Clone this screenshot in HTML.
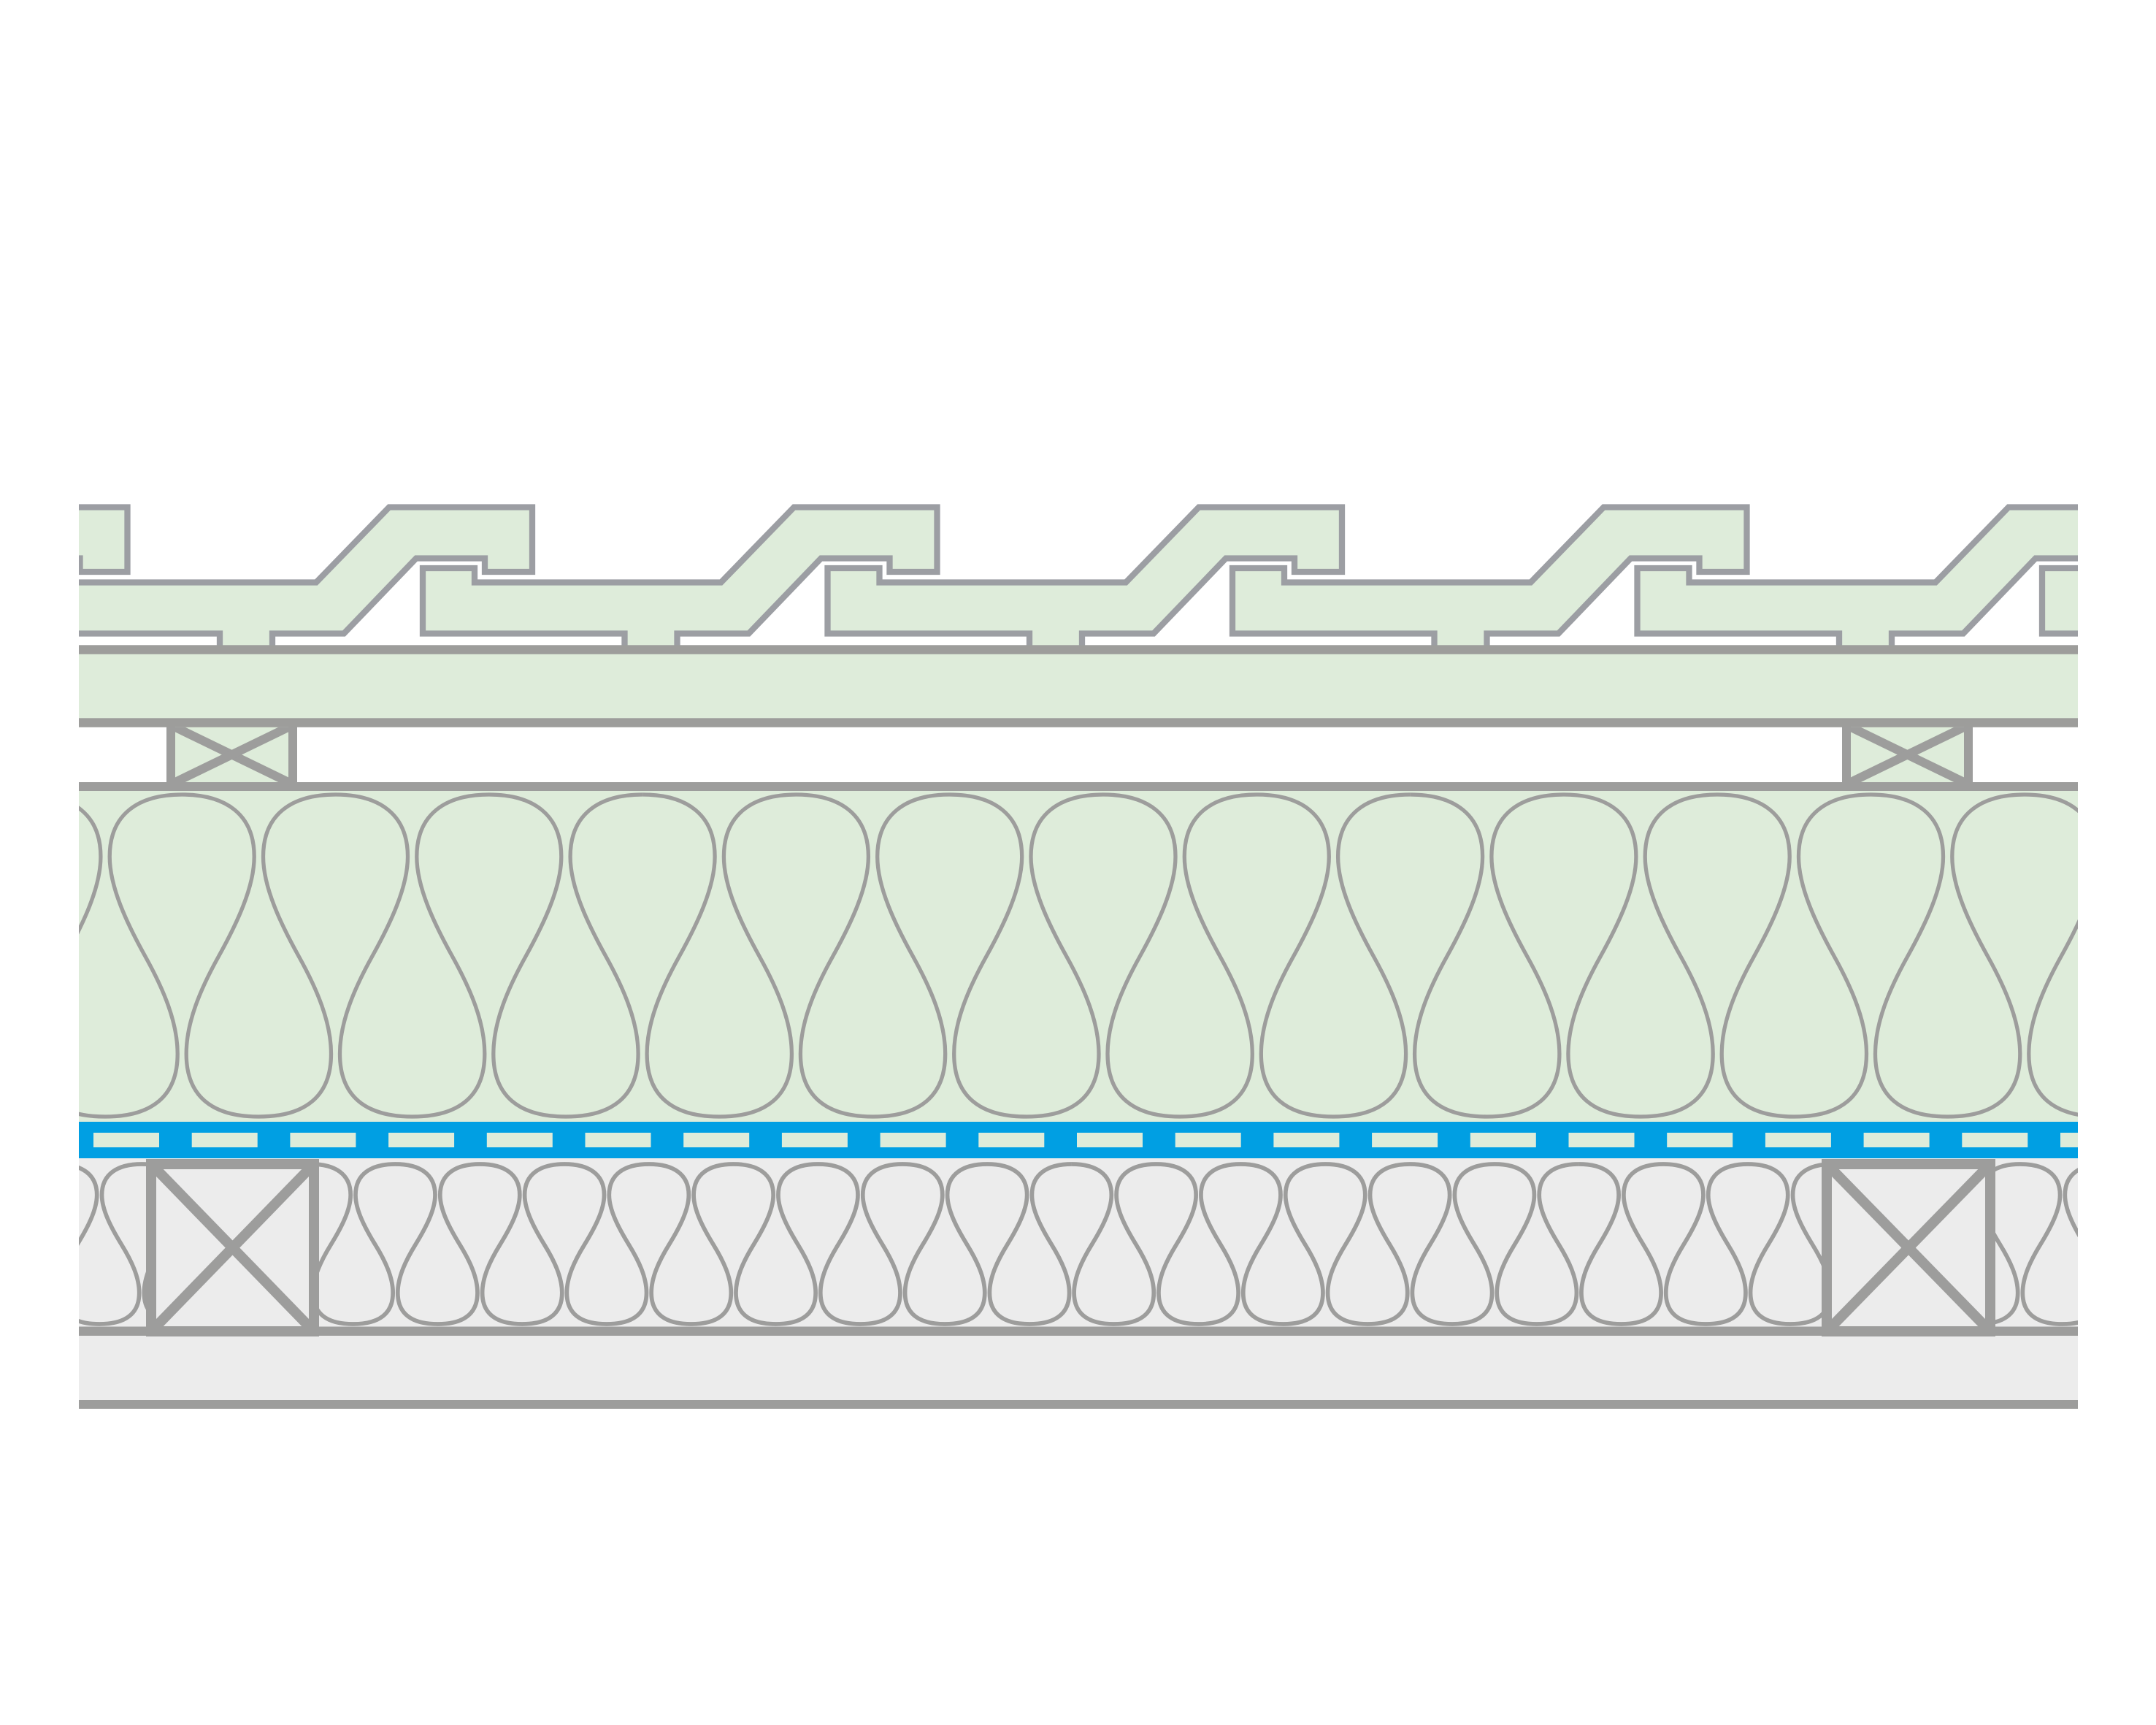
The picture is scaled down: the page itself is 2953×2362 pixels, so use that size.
<!DOCTYPE html>
<html><head><meta charset="utf-8"><style>html,body{margin:0;padding:0;background:#fff;}svg{display:block;}</style></head>
<body>
<svg width="2953" height="2362" viewBox="0 0 2953 2362" xmlns="http://www.w3.org/2000/svg">
<defs>
<clipPath id="c"><rect x="108" y="0" width="2738" height="2362"/></clipPath>
<clipPath id="cu"><rect x="108" y="1083" width="2738" height="453"/></clipPath>
<clipPath id="ca"><rect x="108" y="1586" width="2506" height="230"/></clipPath>
<clipPath id="cb"><rect x="2614" y="1586" width="232" height="230"/></clipPath>
<clipPath id="bt1"><rect x="240" y="995.75" width="155" height="75.25"/></clipPath>
<clipPath id="bt2"><rect x="2535" y="995.75" width="155" height="75.25"/></clipPath>
<clipPath id="j1"><rect x="214" y="1601" width="209" height="215"/></clipPath>
<clipPath id="j2"><rect x="2509" y="1601" width="210" height="215"/></clipPath>
</defs>
<rect width="2953" height="2362" fill="#fff"/>
<g clip-path="url(#c)">
  <!-- Tiles -->
  <g fill="#deecda" stroke="#9c9ea3" stroke-width="8.3" stroke-linejoin="miter">
    <polygon transform="translate(-554.5,0)" points="24.5,778 95.5,778 95.5,797.5 433,797.5 533,694.5 729,694.5 729,783 664,783 664,764.5 570,764.5 471,867.5 373,867.5 373,889 301,889 301,867.5 24.5,867.5"/>
    <polygon transform="translate(0,0)" points="24.5,778 95.5,778 95.5,797.5 433,797.5 533,694.5 729,694.5 729,783 664,783 664,764.5 570,764.5 471,867.5 373,867.5 373,889 301,889 301,867.5 24.5,867.5"/>
    <polygon transform="translate(554.5,0)" points="24.5,778 95.5,778 95.5,797.5 433,797.5 533,694.5 729,694.5 729,783 664,783 664,764.5 570,764.5 471,867.5 373,867.5 373,889 301,889 301,867.5 24.5,867.5"/>
    <polygon transform="translate(1109,0)" points="24.5,778 95.5,778 95.5,797.5 433,797.5 533,694.5 729,694.5 729,783 664,783 664,764.5 570,764.5 471,867.5 373,867.5 373,889 301,889 301,867.5 24.5,867.5"/>
    <polygon transform="translate(1663.5,0)" points="24.5,778 95.5,778 95.5,797.5 433,797.5 533,694.5 729,694.5 729,783 664,783 664,764.5 570,764.5 471,867.5 373,867.5 373,889 301,889 301,867.5 24.5,867.5"/>
    <polygon transform="translate(2218,0)" points="24.5,778 95.5,778 95.5,797.5 433,797.5 533,694.5 729,694.5 729,783 664,783 664,764.5 570,764.5 471,867.5 373,867.5 373,889 301,889 301,867.5 24.5,867.5"/>
    <polygon transform="translate(2772.5,0)" points="24.5,778 95.5,778 95.5,797.5 433,797.5 533,694.5 729,694.5 729,783 664,783 664,764.5 570,764.5 471,867.5 373,867.5 373,889 301,889 301,867.5 24.5,867.5"/>
  </g>

  <!-- Board -->
  <rect x="108" y="889" width="2738" height="100" fill="#deecda"/>

  <!-- Counter battens -->
  <rect x="228" y="989" width="179" height="88" fill="#deecda"/>
  <rect x="2523" y="989" width="179" height="88" fill="#deecda"/>
  <g stroke="#9d9d9c" stroke-width="12" clip-path="url(#bt1)">
    <line x1="240" y1="995.75" x2="395" y2="1071"/>
    <line x1="395" y1="995.75" x2="240" y2="1071"/>
  </g>
  <g stroke="#9d9d9c" stroke-width="12" clip-path="url(#bt2)">
    <line x1="2535" y1="995.75" x2="2690" y2="1071"/>
    <line x1="2690" y1="995.75" x2="2535" y2="1071"/>
  </g>
  <g stroke="#9d9d9c" stroke-width="12">
    <line x1="234" y1="989" x2="234" y2="1077"/>
    <line x1="401" y1="989" x2="401" y2="1077"/>
    <line x1="2529" y1="989" x2="2529" y2="1077"/>
    <line x1="2696" y1="989" x2="2696" y2="1077"/>
  </g>

  <!-- Board lines -->
  <rect x="108" y="883.3" width="2738" height="12.5" fill="#9d9d9b"/>
  <rect x="108" y="983.3" width="2738" height="12.5" fill="#9d9d9b"/>

  <!-- Upper insulation -->
  <rect x="108" y="1077" width="2738" height="459" fill="#deecda"/>
  <g clip-path="url(#cu)" fill="none" stroke="#9d9d9c" stroke-width="5.3">
    <path d="M -171.4 1088 c 60,0 99,27 99,85 c 0,42 -24,92 -49,137 c -25,45 -44,90 -44,133 c 0,57 34,86 99.15,86 c 65.15,0 99.15,-29 99.15,-86 c 0,-43 -19,-88 -44,-133 c -25,-45 -49,-95 -49,-137 c 0,-58 39,-85 99,-85 c 60,0 99,27 99,85 c 0,42 -24,92 -49,137 c -25,45 -44,90 -44,133 c 0,57 34,86 99.15,86 c 65.15,0 99.15,-29 99.15,-86 c 0,-43 -19,-88 -44,-133 c -25,-45 -49,-95 -49,-137 c 0,-58 39,-85 99,-85 c 60,0 99,27 99,85 c 0,42 -24,92 -49,137 c -25,45 -44,90 -44,133 c 0,57 34,86 99.15,86 c 65.15,0 99.15,-29 99.15,-86 c 0,-43 -19,-88 -44,-133 c -25,-45 -49,-95 -49,-137 c 0,-58 39,-85 99,-85 c 60,0 99,27 99,85 c 0,42 -24,92 -49,137 c -25,45 -44,90 -44,133 c 0,57 34,86 99.15,86 c 65.15,0 99.15,-29 99.15,-86 c 0,-43 -19,-88 -44,-133 c -25,-45 -49,-95 -49,-137 c 0,-58 39,-85 99,-85 c 60,0 99,27 99,85 c 0,42 -24,92 -49,137 c -25,45 -44,90 -44,133 c 0,57 34,86 99.15,86 c 65.15,0 99.15,-29 99.15,-86 c 0,-43 -19,-88 -44,-133 c -25,-45 -49,-95 -49,-137 c 0,-58 39,-85 99,-85"/>
    <path d="M 880.1 1088 c 60,0 99,27 99,85 c 0,42 -24,92 -49,137 c -25,45 -44,90 -44,133 c 0,57 34,86 99.15,86 c 65.15,0 99.15,-29 99.15,-86 c 0,-43 -19,-88 -44,-133 c -25,-45 -49,-95 -49,-137 c 0,-58 39,-85 99,-85 c 60,0 99,27 99,85 c 0,42 -24,92 -49,137 c -25,45 -44,90 -44,133 c 0,57 34,86 99.15,86 c 65.15,0 99.15,-29 99.15,-86 c 0,-43 -19,-88 -44,-133 c -25,-45 -49,-95 -49,-137 c 0,-58 39,-85 99,-85 c 60,0 99,27 99,85 c 0,42 -24,92 -49,137 c -25,45 -44,90 -44,133 c 0,57 34,86 99.15,86 c 65.15,0 99.15,-29 99.15,-86 c 0,-43 -19,-88 -44,-133 c -25,-45 -49,-95 -49,-137 c 0,-58 39,-85 99,-85 c 60,0 99,27 99,85 c 0,42 -24,92 -49,137 c -25,45 -44,90 -44,133 c 0,57 34,86 99.15,86 c 65.15,0 99.15,-29 99.15,-86 c 0,-43 -19,-88 -44,-133 c -25,-45 -49,-95 -49,-137 c 0,-58 39,-85 99,-85 c 60,0 99,27 99,85 c 0,42 -24,92 -49,137 c -25,45 -44,90 -44,133 c 0,57 34,86 99.15,86 c 65.15,0 99.15,-29 99.15,-86 c 0,-43 -19,-88 -44,-133 c -25,-45 -49,-95 -49,-137 c 0,-58 39,-85 99,-85"/>
    <path d="M 1931.6 1088 c 60,0 99,27 99,85 c 0,42 -24,92 -49,137 c -25,45 -44,90 -44,133 c 0,57 34,86 99.15,86 c 65.15,0 99.15,-29 99.15,-86 c 0,-43 -19,-88 -44,-133 c -25,-45 -49,-95 -49,-137 c 0,-58 39,-85 99,-85 c 60,0 99,27 99,85 c 0,42 -24,92 -49,137 c -25,45 -44,90 -44,133 c 0,57 34,86 99.15,86 c 65.15,0 99.15,-29 99.15,-86 c 0,-43 -19,-88 -44,-133 c -25,-45 -49,-95 -49,-137 c 0,-58 39,-85 99,-85 c 60,0 99,27 99,85 c 0,42 -24,92 -49,137 c -25,45 -44,90 -44,133 c 0,57 34,86 99.15,86 c 65.15,0 99.15,-29 99.15,-86 c 0,-43 -19,-88 -44,-133 c -25,-45 -49,-95 -49,-137 c 0,-58 39,-85 99,-85 c 60,0 99,27 99,85 c 0,42 -24,92 -49,137 c -25,45 -44,90 -44,133 c 0,57 34,86 99.15,86 c 65.15,0 99.15,-29 99.15,-86 c 0,-43 -19,-88 -44,-133 c -25,-45 -49,-95 -49,-137 c 0,-58 39,-85 99,-85 c 60,0 99,27 99,85 c 0,42 -24,92 -49,137 c -25,45 -44,90 -44,133 c 0,57 34,86 99.15,86 c 65.15,0 99.15,-29 99.15,-86 c 0,-43 -19,-88 -44,-133 c -25,-45 -49,-95 -49,-137 c 0,-58 39,-85 99,-85"/>
  </g>
  <rect x="108" y="1071" width="2738" height="12" fill="#9d9d9c"/>

  <!-- Blue membrane -->
  <rect x="108" y="1536" width="2738" height="50" fill="#009fe3"/>
  <g fill="#deecda">
    <rect x="128" y="1551" width="90" height="20"/>
    <rect x="262.7" y="1551" width="90" height="20"/>
    <rect x="397.4" y="1551" width="90" height="20"/>
    <rect x="532.1" y="1551" width="90" height="20"/>
    <rect x="666.8" y="1551" width="90" height="20"/>
    <rect x="801.5" y="1551" width="90" height="20"/>
    <rect x="936.2" y="1551" width="90" height="20"/>
    <rect x="1070.9" y="1551" width="90" height="20"/>
    <rect x="1205.6" y="1551" width="90" height="20"/>
    <rect x="1340.3" y="1551" width="90" height="20"/>
    <rect x="1475" y="1551" width="90" height="20"/>
    <rect x="1609.7" y="1551" width="90" height="20"/>
    <rect x="1744.4" y="1551" width="90" height="20"/>
    <rect x="1879.1" y="1551" width="90" height="20"/>
    <rect x="2013.8" y="1551" width="90" height="20"/>
    <rect x="2148.5" y="1551" width="90" height="20"/>
    <rect x="2283.2" y="1551" width="90" height="20"/>
    <rect x="2417.9" y="1551" width="90" height="20"/>
    <rect x="2552.6" y="1551" width="90" height="20"/>
    <rect x="2687.3" y="1551" width="90" height="20"/>
    <rect x="2822" y="1551" width="90" height="20"/>
  </g>

  <!-- Lower insulation -->
  <rect x="108" y="1586" width="2738" height="331" fill="#ececec"/>
  <g clip-path="url(#ca)" fill="none" stroke="#9d9d9c" stroke-width="5.7">
    <path d="M 78.2 1594 c 33.04,0 54.52,13.41 54.52,42.21 c 0,20.86 -13.22,45.69 -26.98,68.03 c -13.77,22.35 -24.23,44.69 -24.23,66.05 c 0,28.31 18.72,42.71 54.6,42.71 c 35.88,0 54.6,-14.4 54.6,-42.71 c 0,-21.35 -10.46,-43.7 -24.23,-66.05 c -13.77,-22.35 -26.98,-47.18 -26.98,-68.03 c 0,-28.8 21.48,-42.21 54.52,-42.21 c 33.04,0 54.52,13.41 54.52,42.21 c 0,20.86 -13.22,45.69 -26.98,68.03 c -13.77,22.35 -24.23,44.69 -24.23,66.05 c 0,28.31 18.72,42.71 54.6,42.71 c 35.88,0 54.6,-14.4 54.6,-42.71 c 0,-21.35 -10.46,-43.7 -24.23,-66.05 c -13.77,-22.35 -26.98,-47.18 -26.98,-68.03 c 0,-28.8 21.48,-42.21 54.52,-42.21 c 33.04,0 54.52,13.41 54.52,42.21 c 0,20.86 -13.22,45.69 -26.98,68.03 c -13.77,22.35 -24.23,44.69 -24.23,66.05 c 0,28.31 18.72,42.71 54.6,42.71 c 35.88,0 54.6,-14.4 54.6,-42.71 c 0,-21.35 -10.46,-43.7 -24.23,-66.05 c -13.77,-22.35 -26.98,-47.18 -26.98,-68.03 c 0,-28.8 21.48,-42.21 54.52,-42.21 c 33.04,0 54.52,13.41 54.52,42.21 c 0,20.86 -13.22,45.69 -26.98,68.03 c -13.77,22.35 -24.23,44.69 -24.23,66.05 c 0,28.31 18.72,42.71 54.6,42.71 c 35.88,0 54.6,-14.4 54.6,-42.71 c 0,-21.35 -10.46,-43.7 -24.23,-66.05 c -13.77,-22.35 -26.98,-47.18 -26.98,-68.03 c 0,-28.8 21.48,-42.21 54.52,-42.21 c 33.04,0 54.52,13.41 54.52,42.21 c 0,20.86 -13.22,45.69 -26.98,68.03 c -13.77,22.35 -24.23,44.69 -24.23,66.05 c 0,28.31 18.72,42.71 54.6,42.71 c 35.88,0 54.6,-14.4 54.6,-42.71 c 0,-21.35 -10.46,-43.7 -24.23,-66.05 c -13.77,-22.35 -26.98,-47.18 -26.98,-68.03 c 0,-28.8 21.48,-42.21 54.52,-42.21 c 33.04,0 54.52,13.41 54.52,42.21 c 0,20.86 -13.22,45.69 -26.98,68.03 c -13.77,22.35 -24.23,44.69 -24.23,66.05 c 0,28.31 18.72,42.71 54.6,42.71 c 35.88,0 54.6,-14.4 54.6,-42.71 c 0,-21.35 -10.46,-43.7 -24.23,-66.05 c -13.77,-22.35 -26.98,-47.18 -26.98,-68.03 c 0,-28.8 21.48,-42.21 54.52,-42.21"/>
    <path d="M 773 1594 c 33.04,0 54.52,13.41 54.52,42.21 c 0,20.86 -13.22,45.69 -26.98,68.03 c -13.77,22.35 -24.23,44.69 -24.23,66.05 c 0,28.31 18.72,42.71 54.6,42.71 c 35.88,0 54.6,-14.4 54.6,-42.71 c 0,-21.35 -10.46,-43.7 -24.23,-66.05 c -13.77,-22.35 -26.98,-47.18 -26.98,-68.03 c 0,-28.8 21.48,-42.21 54.52,-42.21 c 33.04,0 54.52,13.41 54.52,42.21 c 0,20.86 -13.22,45.69 -26.98,68.03 c -13.77,22.35 -24.23,44.69 -24.23,66.05 c 0,28.31 18.72,42.71 54.6,42.71 c 35.88,0 54.6,-14.4 54.6,-42.71 c 0,-21.35 -10.46,-43.7 -24.23,-66.05 c -13.77,-22.35 -26.98,-47.18 -26.98,-68.03 c 0,-28.8 21.48,-42.21 54.52,-42.21 c 33.04,0 54.52,13.41 54.52,42.21 c 0,20.86 -13.22,45.69 -26.98,68.03 c -13.77,22.35 -24.23,44.69 -24.23,66.05 c 0,28.31 18.72,42.71 54.6,42.71 c 35.88,0 54.6,-14.4 54.6,-42.71 c 0,-21.35 -10.46,-43.7 -24.23,-66.05 c -13.77,-22.35 -26.98,-47.18 -26.98,-68.03 c 0,-28.8 21.48,-42.21 54.52,-42.21 c 33.04,0 54.52,13.41 54.52,42.21 c 0,20.86 -13.22,45.69 -26.98,68.03 c -13.77,22.35 -24.23,44.69 -24.23,66.05 c 0,28.31 18.72,42.71 54.6,42.71 c 35.88,0 54.6,-14.4 54.6,-42.71 c 0,-21.35 -10.46,-43.7 -24.23,-66.05 c -13.77,-22.35 -26.98,-47.18 -26.98,-68.03 c 0,-28.8 21.48,-42.21 54.52,-42.21 c 33.04,0 54.52,13.41 54.52,42.21 c 0,20.86 -13.22,45.69 -26.98,68.03 c -13.77,22.35 -24.23,44.69 -24.23,66.05 c 0,28.31 18.72,42.71 54.6,42.71 c 35.88,0 54.6,-14.4 54.6,-42.71 c 0,-21.35 -10.46,-43.7 -24.23,-66.05 c -13.77,-22.35 -26.98,-47.18 -26.98,-68.03 c 0,-28.8 21.48,-42.21 54.52,-42.21 c 33.04,0 54.52,13.41 54.52,42.21 c 0,20.86 -13.22,45.69 -26.98,68.03 c -13.77,22.35 -24.23,44.69 -24.23,66.05 c 0,28.31 18.72,42.71 54.6,42.71 c 35.88,0 54.6,-14.4 54.6,-42.71 c 0,-21.35 -10.46,-43.7 -24.23,-66.05 c -13.77,-22.35 -26.98,-47.18 -26.98,-68.03 c 0,-28.8 21.48,-42.21 54.52,-42.21"/>
    <path d="M 1467.8 1594 c 33.04,0 54.52,13.41 54.52,42.21 c 0,20.86 -13.22,45.69 -26.98,68.03 c -13.77,22.35 -24.23,44.69 -24.23,66.05 c 0,28.31 18.72,42.71 54.6,42.71 c 35.88,0 54.6,-14.4 54.6,-42.71 c 0,-21.35 -10.46,-43.7 -24.23,-66.05 c -13.77,-22.35 -26.98,-47.18 -26.98,-68.03 c 0,-28.8 21.48,-42.21 54.52,-42.21 c 33.04,0 54.52,13.41 54.52,42.21 c 0,20.86 -13.22,45.69 -26.98,68.03 c -13.77,22.35 -24.23,44.69 -24.23,66.05 c 0,28.31 18.72,42.71 54.6,42.71 c 35.88,0 54.6,-14.4 54.6,-42.71 c 0,-21.35 -10.46,-43.7 -24.23,-66.05 c -13.77,-22.35 -26.98,-47.18 -26.98,-68.03 c 0,-28.8 21.48,-42.21 54.52,-42.21 c 33.04,0 54.52,13.41 54.52,42.21 c 0,20.86 -13.22,45.69 -26.98,68.03 c -13.77,22.35 -24.23,44.69 -24.23,66.05 c 0,28.31 18.72,42.71 54.6,42.71 c 35.88,0 54.6,-14.4 54.6,-42.71 c 0,-21.35 -10.46,-43.7 -24.23,-66.05 c -13.77,-22.35 -26.98,-47.18 -26.98,-68.03 c 0,-28.8 21.48,-42.21 54.52,-42.21 c 33.04,0 54.52,13.41 54.52,42.21 c 0,20.86 -13.22,45.69 -26.98,68.03 c -13.77,22.35 -24.23,44.69 -24.23,66.05 c 0,28.31 18.72,42.71 54.6,42.71 c 35.88,0 54.6,-14.4 54.6,-42.71 c 0,-21.35 -10.46,-43.7 -24.23,-66.05 c -13.77,-22.35 -26.98,-47.18 -26.98,-68.03 c 0,-28.8 21.48,-42.21 54.52,-42.21 c 33.04,0 54.52,13.41 54.52,42.21 c 0,20.86 -13.22,45.69 -26.98,68.03 c -13.77,22.35 -24.23,44.69 -24.23,66.05 c 0,28.31 18.72,42.71 54.6,42.71 c 35.88,0 54.6,-14.4 54.6,-42.71 c 0,-21.35 -10.46,-43.7 -24.23,-66.05 c -13.77,-22.35 -26.98,-47.18 -26.98,-68.03 c 0,-28.8 21.48,-42.21 54.52,-42.21 c 33.04,0 54.52,13.41 54.52,42.21 c 0,20.86 -13.22,45.69 -26.98,68.03 c -13.77,22.35 -24.23,44.69 -24.23,66.05 c 0,28.31 18.72,42.71 54.6,42.71 c 35.88,0 54.6,-14.4 54.6,-42.71 c 0,-21.35 -10.46,-43.7 -24.23,-66.05 c -13.77,-22.35 -26.98,-47.18 -26.98,-68.03 c 0,-28.8 21.48,-42.21 54.52,-42.21"/>
    <path d="M 2162.6 1594 c 33.04,0 54.52,13.41 54.52,42.21 c 0,20.86 -13.22,45.69 -26.98,68.03 c -13.77,22.35 -24.23,44.69 -24.23,66.05 c 0,28.31 18.72,42.71 54.6,42.71 c 35.88,0 54.6,-14.4 54.6,-42.71 c 0,-21.35 -10.46,-43.7 -24.23,-66.05 c -13.77,-22.35 -26.98,-47.18 -26.98,-68.03 c 0,-28.8 21.48,-42.21 54.52,-42.21 c 33.04,0 54.52,13.41 54.52,42.21 c 0,20.86 -13.22,45.69 -26.98,68.03 c -13.77,22.35 -24.23,44.69 -24.23,66.05 c 0,28.31 18.72,42.71 54.6,42.71 c 35.88,0 54.6,-14.4 54.6,-42.71 c 0,-21.35 -10.46,-43.7 -24.23,-66.05 c -13.77,-22.35 -26.98,-47.18 -26.98,-68.03 c 0,-28.8 21.48,-42.21 54.52,-42.21 c 33.04,0 54.52,13.41 54.52,42.21 c 0,20.86 -13.22,45.69 -26.98,68.03 c -13.77,22.35 -24.23,44.69 -24.23,66.05 c 0,28.31 18.72,42.71 54.6,42.71 c 35.88,0 54.6,-14.4 54.6,-42.71 c 0,-21.35 -10.46,-43.7 -24.23,-66.05 c -13.77,-22.35 -26.98,-47.18 -26.98,-68.03 c 0,-28.8 21.48,-42.21 54.52,-42.21 c 33.04,0 54.52,13.41 54.52,42.21 c 0,20.86 -13.22,45.69 -26.98,68.03 c -13.77,22.35 -24.23,44.69 -24.23,66.05 c 0,28.31 18.72,42.71 54.6,42.71 c 35.88,0 54.6,-14.4 54.6,-42.71 c 0,-21.35 -10.46,-43.7 -24.23,-66.05 c -13.77,-22.35 -26.98,-47.18 -26.98,-68.03 c 0,-28.8 21.48,-42.21 54.52,-42.21 c 33.04,0 54.52,13.41 54.52,42.21 c 0,20.86 -13.22,45.69 -26.98,68.03 c -13.77,22.35 -24.23,44.69 -24.23,66.05 c 0,28.31 18.72,42.71 54.6,42.71 c 35.88,0 54.6,-14.4 54.6,-42.71 c 0,-21.35 -10.46,-43.7 -24.23,-66.05 c -13.77,-22.35 -26.98,-47.18 -26.98,-68.03 c 0,-28.8 21.48,-42.21 54.52,-42.21 c 33.04,0 54.52,13.41 54.52,42.21 c 0,20.86 -13.22,45.69 -26.98,68.03 c -13.77,22.35 -24.23,44.69 -24.23,66.05 c 0,28.31 18.72,42.71 54.6,42.71 c 35.88,0 54.6,-14.4 54.6,-42.71 c 0,-21.35 -10.46,-43.7 -24.23,-66.05 c -13.77,-22.35 -26.98,-47.18 -26.98,-68.03 c 0,-28.8 21.48,-42.21 54.52,-42.21"/>
  </g>
  <g clip-path="url(#cb)" fill="none" stroke="#9d9d9c" stroke-width="5.7">
    <path d="M 2651.2 1594 c 33.04,0 54.52,13.41 54.52,42.21 c 0,20.86 -13.22,45.69 -26.98,68.03 c -13.77,22.35 -24.23,44.69 -24.23,66.05 c 0,28.31 18.72,42.71 54.6,42.71 c 35.88,0 54.6,-14.4 54.6,-42.71 c 0,-21.35 -10.46,-43.7 -24.23,-66.05 c -13.77,-22.35 -26.98,-47.18 -26.98,-68.03 c 0,-28.8 21.48,-42.21 54.52,-42.21 c 33.04,0 54.52,13.41 54.52,42.21 c 0,20.86 -13.22,45.69 -26.98,68.03 c -13.77,22.35 -24.23,44.69 -24.23,66.05 c 0,28.31 18.72,42.71 54.6,42.71 c 35.88,0 54.6,-14.4 54.6,-42.71 c 0,-21.35 -10.46,-43.7 -24.23,-66.05 c -13.77,-22.35 -26.98,-47.18 -26.98,-68.03 c 0,-28.8 21.48,-42.21 54.52,-42.21 c 33.04,0 54.52,13.41 54.52,42.21 c 0,20.86 -13.22,45.69 -26.98,68.03 c -13.77,22.35 -24.23,44.69 -24.23,66.05 c 0,28.31 18.72,42.71 54.6,42.71 c 35.88,0 54.6,-14.4 54.6,-42.71 c 0,-21.35 -10.46,-43.7 -24.23,-66.05 c -13.77,-22.35 -26.98,-47.18 -26.98,-68.03 c 0,-28.8 21.48,-42.21 54.52,-42.21"/>
  </g>

  <!-- Lower lines -->
  <rect x="108" y="1816.5" width="2738" height="12.5" fill="#9d9d9c"/>
  <rect x="108" y="1917" width="2738" height="12" fill="#9d9d9c"/>

  <!-- Joists -->
  <rect x="207" y="1594" width="223" height="229" fill="#ececec"/>
  <rect x="2502" y="1594" width="224" height="229" fill="#ececec"/>
  <g stroke="#9d9d9c" stroke-width="14" clip-path="url(#j1)">
    <line x1="214" y1="1601" x2="423" y2="1816"/>
    <line x1="423" y1="1601" x2="214" y2="1816"/>
  </g>
  <g stroke="#9d9d9c" stroke-width="14" clip-path="url(#j2)">
    <line x1="2509" y1="1601" x2="2719" y2="1816"/>
    <line x1="2719" y1="1601" x2="2509" y2="1816"/>
  </g>
  <rect x="207" y="1594" width="223" height="229" fill="none" stroke="#9d9d9c" stroke-width="14"/>
  <rect x="2502" y="1594" width="224" height="229" fill="none" stroke="#9d9d9c" stroke-width="14"/>
</g>
</svg>
</body></html>
